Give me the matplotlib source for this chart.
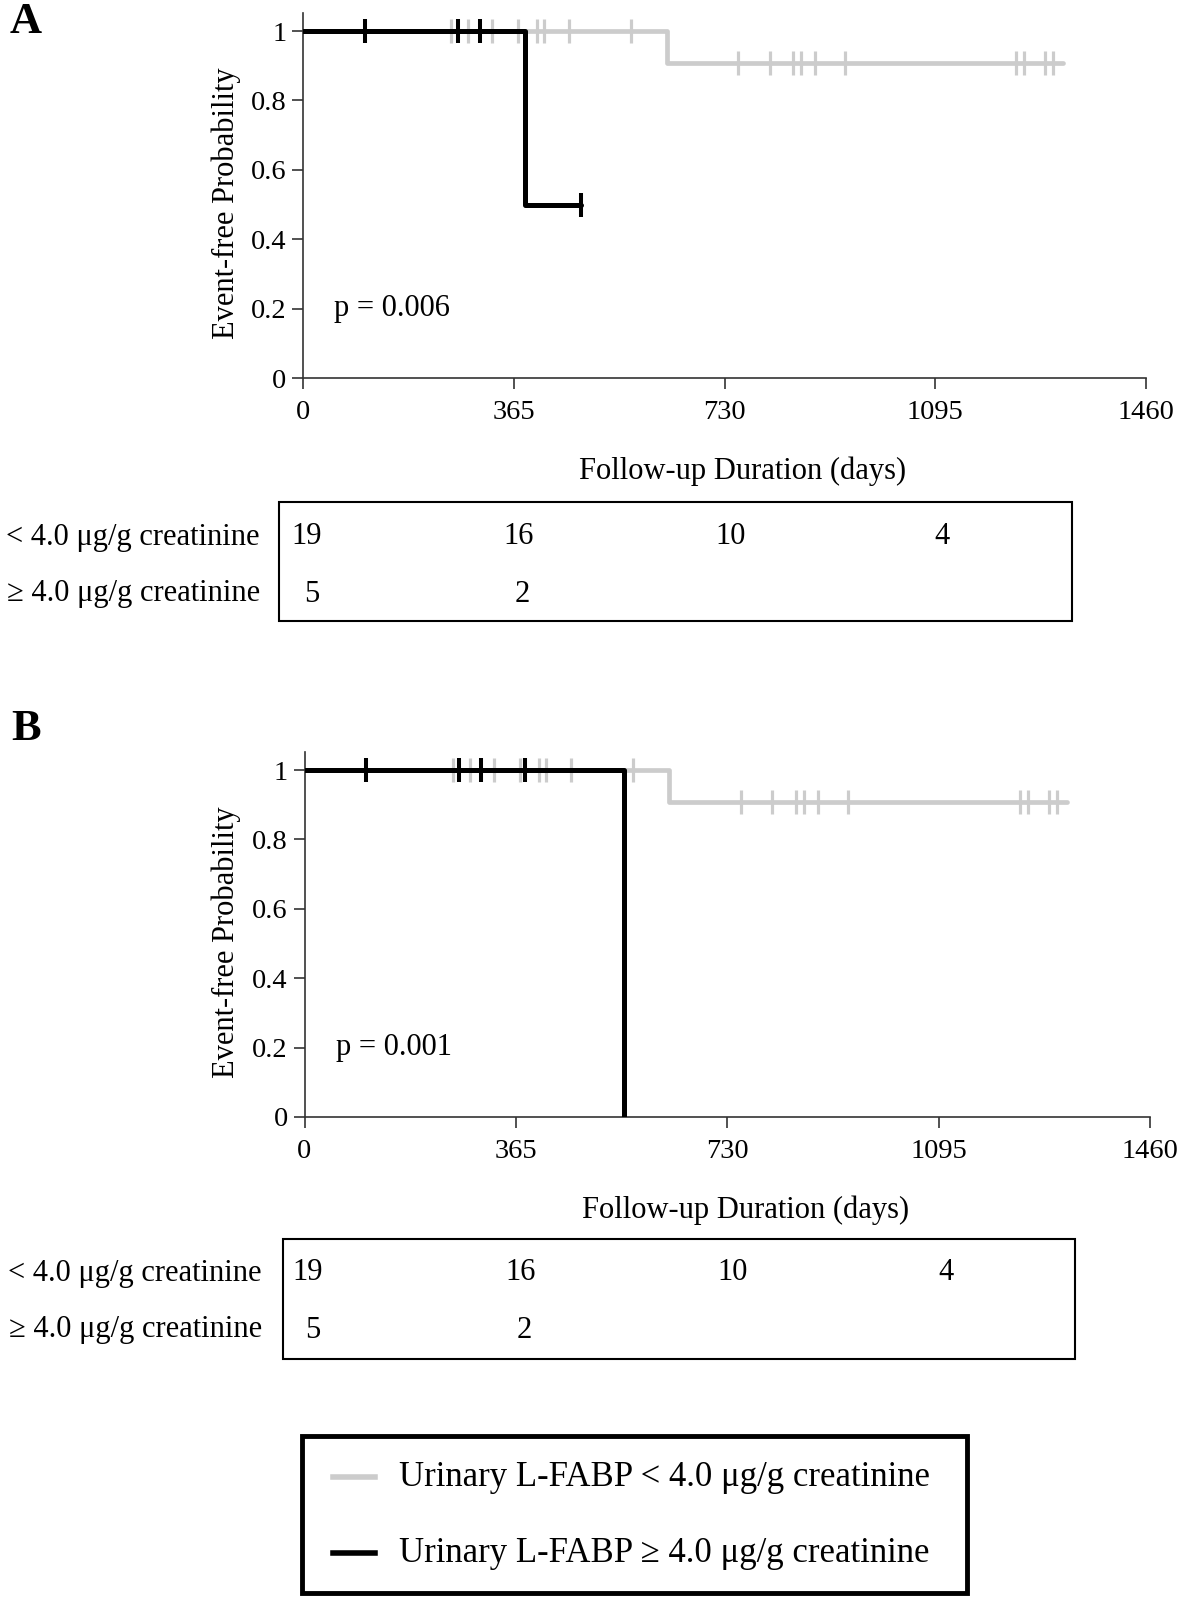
import matplotlib
matplotlib.use("Agg")
import matplotlib.pyplot as plt
from matplotlib.patches import Rectangle
from matplotlib.lines import Line2D
from matplotlib.transforms import blended_transform_factory
import numpy as np

plt.rcParams['font.family'] = ['Liberation Serif', 'DejaVu Serif']

W, H = 1181, 1597

# ---- data ----
x_ticks = [0, 365, 730, 1095, 1460]
y_ticks = [0, 0.2, 0.4, 0.6, 0.8, 1]
y_ticklabels = ["0", "0.2", "0.4", "0.6", "0.8", "1"]

# low L-FABP group (same in both panels)
low_step_times = [0, 630, 1316]
low_step_surv = [1.0, 0.909, 0.909]
low_censor = [256, 285, 328, 372, 405, 417, 460, 568, 754, 808, 848, 863, 887,
              938, 1235, 1249, 1285, 1299]

# high L-FABP group, panel A
highA_step_times = [0, 384, 482]
highA_step_surv = [1.0, 0.5, 0.5]
highA_censor = [108, 268, 306, 482]

# high L-FABP group, panel B
highB_step_times = [0, 551, 551]
highB_step_surv = [1.0, 0.0, 0.0]
highB_censor = [107, 267, 305, 381]

risk_times = [0, 365, 730, 1095]
risk_low = [19, 16, 10, 4]
risk_high = [5, 2]

row_labels = ["< 4.0 μg/g creatinine", "≥ 4.0 μg/g creatinine"]
legend_labels = ["Urinary L-FABP < 4.0 μg/g creatinine",
                 "Urinary L-FABP ≥ 4.0 μg/g creatinine"]
p_values = ["p = 0.006", "p = 0.001"]

GRAY = '#cccccc'
BLACK = '#000000'


def fx(px):
    return px / W


def fy(py):
    return 1 - py / H


def surv_at(t, times, surv):
    idx = np.searchsorted(times, t, side='right') - 1
    return surv[max(idx, 0)]


def km_panel(fig, rect, letter, letter_xy, high_times, high_surv, high_cens,
             pval, table_box, row_ys, label_right):
    ax = fig.add_axes(rect)
    ax.set_xlim(0, 1460)
    ax.set_ylim(0, 1.052)

    # gray curve first, black on top
    ax.step(low_step_times, low_step_surv, where='post', color=GRAY, lw=3.4,
            solid_capstyle='round', solid_joinstyle='round', zorder=2)
    ax.plot(low_censor, [surv_at(t, low_step_times, low_step_surv) for t in low_censor],
            ls='none', marker='|', ms=17, mew=2.3, color=GRAY, zorder=2)
    ax.step(high_times, high_surv, where='post', color=BLACK, lw=3.6,
            solid_capstyle='round', solid_joinstyle='round', zorder=3)
    ax.plot(high_cens, [surv_at(t, high_times, high_surv) for t in high_cens],
            ls='none', marker='|', ms=17, mew=2.9, color=BLACK, zorder=3)

    ax.spines['top'].set_visible(False)
    ax.spines['right'].set_visible(False)
    for s in ('left', 'bottom'):
        ax.spines[s].set_linewidth(1.2)
        ax.spines[s].set_color('#333333')
    ax.set_xticks(x_ticks)
    ax.set_yticks(y_ticks)
    ax.set_yticklabels(y_ticklabels)
    ax.tick_params(axis='both', direction='out', length=8, width=1.2,
                   labelsize=20.5, colors='#333333', labelcolor='black')
    ax.tick_params(axis='x', pad=8)
    ax.tick_params(axis='y', pad=4)

    ax.text(54, 0.2, pval, fontsize=22, ha='left', va='center')

    # panel letter
    fig.text(fx(letter_xy[0]), fy(letter_xy[1]), letter, fontsize=32,
             fontweight='bold', ha='center', va='center')

    # axis labels
    bb = ax.get_position()
    fig.text(bb.x0 + bb.width * 0.522, bb.y0 - 93 / H, "Follow-up Duration (days)",
             fontsize=22, ha='center', va='center')
    fig.text(fx(226), bb.y0 + bb.height * 0.48, "Event-free Probability",
             fontsize=22, ha='center', va='center', rotation=90)

    # number at risk table
    x0, y0, x1, y1 = table_box
    fig.patches.append(Rectangle((fx(x0), fy(y1)), fx(x1 - x0), (y1 - y0) / H,
                                 transform=fig.transFigure, fill=False,
                                 lw=1.5, edgecolor='black'))
    trans = blended_transform_factory(ax.transData, fig.transFigure)
    offsets = [6, 8, 10, 12]
    for i, (t, n) in enumerate(zip(risk_times, risk_low)):
        ax.text(t + offsets[i], fy(row_ys[0]), str(n), transform=trans, fontsize=22,
                ha='center', va='center', clip_on=False)
    for i, (t, n) in enumerate(zip(risk_times, risk_high)):
        ax.text(t + 15, fy(row_ys[1]), str(n), transform=trans, fontsize=22,
                ha='center', va='center', clip_on=False)
    for lab, ry in zip(row_labels, row_ys):
        fig.text(fx(label_right), fy(ry), lab, fontsize=22, ha='right', va='center')
    return ax


fig = plt.figure(figsize=(W / 100, H / 100), dpi=100)

# panel A: x 303..1146, y(top of spine) 13..378
km_panel(fig, [fx(303), fy(378), fx(1146 - 303), 365 / H], "A", (26, 22),
         highA_step_times, highA_step_surv, highA_censor, p_values[0],
         (279, 502, 1072, 621), (537, 594), 260)

# panel B: x 304.5..1150, y 752..1117
km_panel(fig, [fx(304.5), fy(1117), fx(1150 - 304.5), 365 / H], "B", (26, 729),
         highB_step_times, highB_step_surv, highB_censor, p_values[1],
         (283, 1239, 1075, 1359), (1273, 1330), 262)

# legend box
fig.patches.append(Rectangle((fx(302), fy(1593)), fx(967 - 302), (1593 - 1436) / H,
                             transform=fig.transFigure, fill=False, lw=3.5,
                             edgecolor='black'))
for lab, col, ly in zip(legend_labels, [GRAY, BLACK], [1477, 1553]):
    fig.lines.append(Line2D([fx(333), fx(375)], [fy(ly), fy(ly)], color=col, lw=4,
                            transform=fig.transFigure))
    fig.text(fx(399), fy(ly), lab, fontsize=25, ha='left', va='center')

fig.savefig("out.png", dpi=100, facecolor='white')
